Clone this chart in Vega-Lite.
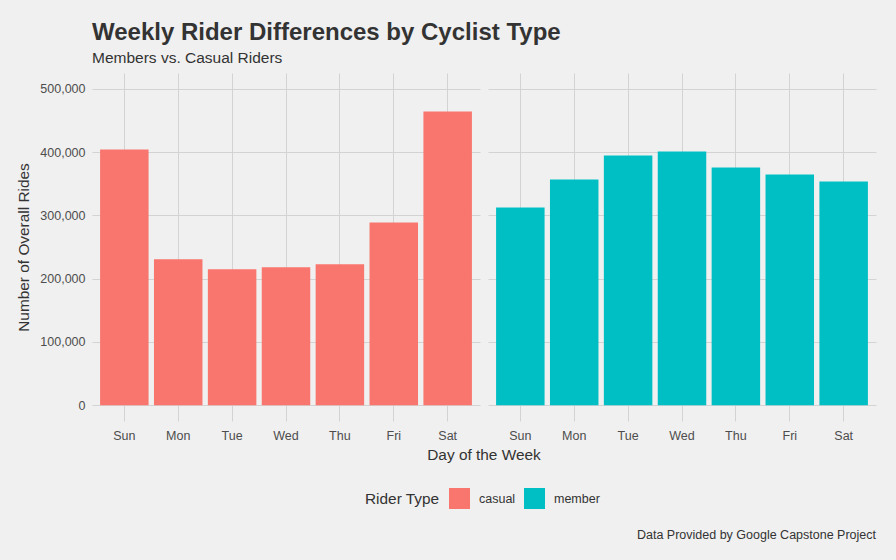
{
  "$schema": "https://vega.github.io/schema/vega-lite/v6.json",
  "background": "#f0f0f0",
  "padding": {"left": 16, "top": 20, "right": 20, "bottom": 19},
  "config": {
    "view": {"stroke": null},
    "font": "Liberation Sans",
    "axis": {
      "domain": false,
      "ticks": false,
      "gridColor": "#d3d3d3",
      "gridWidth": 1,
      "labelColor": "#4d4d4d",
      "labelFontSize": 12.5,
      "titleColor": "#333333",
      "titleFontSize": 15.4,
      "titleFontWeight": "normal"
    }
  },
  "title": {
    "text": "Data Provided by Google Capstone Project",
    "orient": "bottom",
    "anchor": "end",
    "fontSize": 12.5,
    "fontWeight": "normal",
    "color": "#333333",
    "offset": 20
  },
  "vconcat": [
    {
      "title": {
        "text": "Weekly Rider Differences by Cyclist Type",
        "subtitle": "Members vs. Casual Riders",
        "anchor": "start",
        "frame": "group",
        "fontSize": 24,
        "fontWeight": "bold",
        "color": "#333333",
        "subtitleFontSize": 15.5,
        "subtitleColor": "#333333",
        "subtitlePadding": 6,
        "offset": 7
      },
      "data": {
        "values": [
          {"rider": "casual", "day": "Sun", "rides": 404000},
          {"rider": "casual", "day": "Mon", "rides": 230500},
          {"rider": "casual", "day": "Tue", "rides": 214700},
          {"rider": "casual", "day": "Wed", "rides": 217900},
          {"rider": "casual", "day": "Thu", "rides": 222600},
          {"rider": "casual", "day": "Fri", "rides": 288900},
          {"rider": "casual", "day": "Sat", "rides": 464200},
          {"rider": "member", "day": "Sun", "rides": 312600},
          {"rider": "member", "day": "Mon", "rides": 356800},
          {"rider": "member", "day": "Tue", "rides": 394700},
          {"rider": "member", "day": "Wed", "rides": 401000},
          {"rider": "member", "day": "Thu", "rides": 375700},
          {"rider": "member", "day": "Fri", "rides": 364700},
          {"rider": "member", "day": "Sat", "rides": 353600}
        ]
      },
      "facet": {
        "column": {
          "field": "rider",
          "type": "nominal",
          "header": {
            "labels": false,
            "title": "Day of the Week",
            "titleOrient": "bottom",
            "titleFontSize": 15.4,
            "titleFontWeight": "normal",
            "titleColor": "#333333",
            "titlePadding": -4
          }
        }
      },
      "spacing": 8,
      "spec": {
        "width": 388,
        "height": 348,
        "mark": {"type": "bar"},
        "encoding": {
          "x": {
            "field": "day",
            "type": "nominal",
            "sort": ["Sun", "Mon", "Tue", "Wed", "Thu", "Fri", "Sat"],
            "scale": {"paddingInner": 0.1, "paddingOuter": 0.15},
            "axis": {"title": null, "labelAngle": 0, "bandPosition": 0.5, "grid": true, "labelPadding": 8}
          },
          "y": {
            "field": "rides",
            "type": "quantitative",
            "scale": {"domain": [-25000, 525000], "nice": false, "zero": false},
            "axis": {
              "title": "Number of Overall Rides",
              "values": [0, 100000, 200000, 300000, 400000, 500000],
              "format": ",.0f",
              "labelPadding": 7,
              "titlePadding": 8
            }
          },
          "y2": {"datum": 0},
          "color": {
            "field": "rider",
            "type": "nominal",
            "scale": {"domain": ["casual", "member"], "range": ["#F8766D", "#00BFC4"]},
            "legend": {
              "title": "Rider Type",
              "orient": "none",
              "legendX": 273,
              "legendY": 415,
              "direction": "horizontal",
              "titleOrient": "left",
              "titleAnchor": "middle",
              "titleBaseline": "middle",
              "titleFontSize": 15.4,
              "titleFontWeight": "normal",
              "titleColor": "#333333",
              "titlePadding": 9,
              "labelFontSize": 12.5,
              "labelColor": "#333333",
              "labelOffset": 9,
              "symbolType": "square",
              "symbolSize": 441,
              "symbolStrokeWidth": 0,
              "symbolOpacity": 1,
              "columnPadding": 8
            }
          }
        }
      }
    }
  ]
}
